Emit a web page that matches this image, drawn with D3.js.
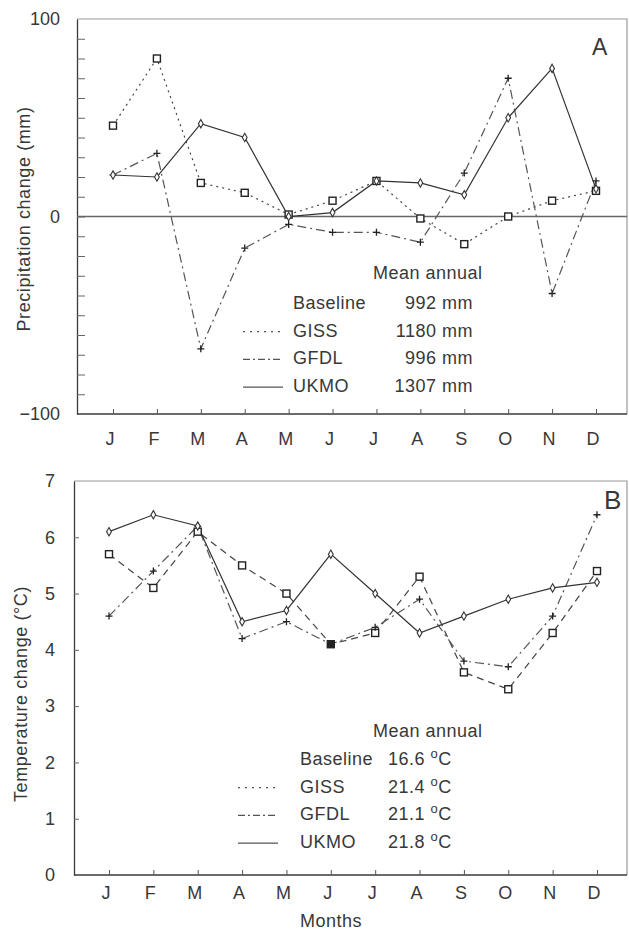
<!DOCTYPE html>
<html>
<head>
<meta charset="utf-8">
<script src="https://cdn.jsdelivr.net/npm/d3@7"></script>
<style>
  body { margin: 0; background: #fff; }
  svg text { font-family: "Liberation Sans", Arial, sans-serif; fill: #383838; }
</style>
</head>
<body>
<svg id="chart" width="629" height="936"></svg>
<script>
// data
const months = ["J", "F", "M", "A", "M", "J", "J", "A", "S", "O", "N", "D"];

const precipGISS = [46, 80, 17, 12, 1, 8, 18, -1, -14, 0, 8, 13];
const precipGFDL = [21, 32, -67, -16, -4, -8, -8, -13, 22, 70, -39, 18];
const precipUKMO = [21, 20, 47, 40, 0, 2, 18, 17, 11, 50, 75, 14];

const tempGISS = [5.7, 5.1, 6.1, 5.5, 5.0, 4.1, 4.3, 5.3, 3.6, 3.3, 4.3, 5.4];
const tempGFDL = [4.6, 5.4, 6.2, 4.2, 4.5, 4.1, 4.4, 4.9, 3.8, 3.7, 4.6, 6.4];
const tempUKMO = [6.1, 6.4, 6.2, 4.5, 4.7, 5.7, 5.0, 4.3, 4.6, 4.9, 5.1, 5.2];

const legendNames = ["Baseline", "GISS", "GFDL", "UKMO"];
const precipMeans = ["992", "1180", "996", "1307"];
const tempMeans = ["16.6", "21.4", "21.1", "21.8"];

const precipLabelTicks = [-100, 0, 100];
const tempLabelTicks = [0, 1, 2, 3, 4, 5, 6, 7];

const svg = d3.select("#chart");
const ink = "#3a3a3a";

const drawPanel = (p) => {
  const x = d3.scalePoint().domain(d3.range(12)).range([p.x0, p.x1]);
  const y = d3.scaleLinear().domain(p.ydomain).range([p.bottom, p.top]);
  const g = svg.append("g");

  // frame (top/right are faint in the scan)
  g.append("path")
    .attr("d", `M${p.left},${p.top}H${p.right}V${p.bottom}`)
    .attr("fill", "none").attr("stroke", "#999").attr("stroke-width", 1.2);

  // minor ticks inside left axis
  g.append("g").attr("transform", `translate(${p.left},0)`)
    .call(d3.axisLeft(y).tickValues(p.minorTicks).tickSizeInner(-p.tickLen).tickSizeOuter(0).tickFormat(""))
    .call(a => a.select(".domain").attr("stroke", ink).attr("stroke-width", 1.3))
    .call(a => a.selectAll(".tick line").attr("stroke", "#666"));

  // labels on left axis
  g.append("g").attr("transform", `translate(${p.left},0)`)
    .call(d3.axisLeft(y).tickValues(p.labelTicks).tickSize(0).tickPadding(p.labelPad).tickFormat(d3.format("d")))
    .call(a => a.select(".domain").remove())
    .call(a => a.selectAll("text").attr("font-size", 18).attr("fill", "#383838")
      .attr("font-family", "Liberation Sans, Arial, sans-serif"));

  // bottom axis with inward ticks
  g.append("g").attr("transform", `translate(0,${p.bottom})`)
    .call(d3.axisBottom(x).tickSizeInner(-5).tickSizeOuter(0).tickFormat(""))
    .call(a => a.select(".domain").attr("d", `M${p.left},0H${p.right}`).attr("stroke", ink).attr("stroke-width", 1.3))
    .call(a => a.selectAll(".tick line").attr("stroke", "#555"));

  g.selectAll(".mon").data(months).join("text")
    .attr("x", (d, i) => x(i) - 3).attr("y", p.bottom + p.monthDy)
    .attr("text-anchor", "middle").attr("font-size", 18).text(d => d);

  if (p.zeroLine) {
    g.append("line").attr("x1", p.left).attr("x2", p.right)
      .attr("y1", y(0)).attr("y2", y(0)).attr("stroke", "#666").attr("stroke-width", 1.3);
  }

  // y title
  g.append("text")
    .attr("transform", `translate(${p.titleX},${p.titleY}) rotate(-90)`)
    .attr("text-anchor", "middle").attr("font-size", 18).attr("letter-spacing", 0.6)
    .text(p.title);

  g.append("text").attr("x", p.letterX).attr("y", p.letterY)
    .attr("font-size", p.letterSize).text(p.letter);

  const line = d3.line().x((d, i) => x(i)).y(d => y(d));
  const series = [
    { vals: p.giss, dash: p.gissDash, marker: "square", color: "#444" },
    { vals: p.gfdl, dash: "9,4,2,4", marker: "plus", color: "#555" },
    { vals: p.ukmo, dash: null, marker: "diamond", color: "#333" }
  ];
  series.forEach(s => {
    g.append("path").datum(s.vals)
      .attr("d", line).attr("fill", "none").attr("stroke", s.color)
      .attr("stroke-width", 1.2).attr("stroke-dasharray", s.dash);
  });
  series.forEach(s => {
    const m = g.append("g").selectAll("g").data(s.vals).join("g")
      .attr("transform", (d, i) => `translate(${x(i)},${y(d)})`);
    if (s.marker === "square") {
      m.append("rect").attr("x", -3.5).attr("y", -3.5).attr("width", 7).attr("height", 7)
        .attr("fill", (d, i) => p.fillCoincident && Math.abs(d - p.gfdl[i]) < 0.05 ? "#222" : "#fff")
        .attr("stroke", "#222").attr("stroke-width", 1.4);
    } else if (s.marker === "diamond") {
      m.append("path").attr("d", d3.symbol(d3.symbolDiamond, 20)())
        .attr("fill", "#fff").attr("stroke", "#333").attr("stroke-width", 1.1);
    } else {
      m.append("path").attr("d", "M-3.5,0H3.5M0,-3.5V3.5")
        .attr("stroke", "#222").attr("stroke-width", 1.3);
    }
  });

  // legend
  const L = p.legend;
  g.append("text").attr("x", L.titleX).attr("y", L.titleY)
    .attr("font-size", 18).attr("letter-spacing", 0.5).text("Mean annual");
  const rows = g.append("g").selectAll("g").data(legendNames).join("g")
    .attr("transform", (d, i) => `translate(0,${L.row0 + i * L.gap})`);
  rows.append("text").attr("x", L.nameX).attr("font-size", 18).attr("letter-spacing", 0.5).text(d => d);
  const vals = rows.append("text").attr("x", L.valX).attr("text-anchor", L.valAnchor)
    .attr("font-size", 18).attr("letter-spacing", 0.5);
  vals.append("tspan").text((d, i) => p.means[i] + " ");
  if (p.unit === "mm") {
    vals.append("tspan").text("mm");
  } else {
    vals.append("tspan").attr("font-size", 13).attr("dy", -7).text("o");
    vals.append("tspan").attr("dy", 7).text("C");
  }
  const dashes = [null, "2,5", "7,3,2,3", null];
  rows.filter((d, i) => i > 0).append("line")
    .attr("x1", L.sx0).attr("x2", L.sx1).attr("y1", -5).attr("y2", -5)
    .attr("stroke", "#555").attr("stroke-width", 1.2)
    .attr("stroke-dasharray", (d, i) => dashes[i + 1]);
};

drawPanel({
  left: 77, right: 627, top: 19, bottom: 414, x0: 113, x1: 596,
  ydomain: [-100, 100], minorTicks: d3.range(-90, 100, 10), labelTicks: precipLabelTicks,
  tickLen: 8, labelPad: 17, monthDy: 31, zeroLine: true,
  title: "Precipitation change (mm)", titleX: 30, titleY: 219,
  letter: "A", letterX: 592, letterY: 55, letterSize: 23,
  giss: precipGISS, gfdl: precipGFDL, ukmo: precipUKMO, gissDash: "2,4",
  means: precipMeans, unit: "mm",
  legend: { titleX: 373, titleY: 279, nameX: 293, row0: 309, gap: 27.7,
    valX: 473, valAnchor: "end", sx0: 243, sx1: 283 }
});

drawPanel({
  left: 74, right: 627, top: 481, bottom: 875, x0: 109, x1: 597,
  ydomain: [0, 7], minorTicks: d3.range(1, 7), labelTicks: tempLabelTicks,
  tickLen: 5, labelPad: 19, monthDy: 24, zeroLine: false,
  title: "Temperature change (\u00B0C)", titleX: 27, titleY: 694,
  letter: "B", letterX: 604, letterY: 509, letterSize: 26,
  giss: tempGISS, gfdl: tempGFDL, ukmo: tempUKMO, gissDash: "7,5", fillCoincident: true,
  means: tempMeans, unit: "C",
  legend: { titleX: 373, titleY: 737, nameX: 300, row0: 765, gap: 27.7,
    valX: 388, valAnchor: "start", sx0: 238, sx1: 278 }
});

svg.append("text").attr("x", 331).attr("y", 927).attr("text-anchor", "middle")
  .attr("font-size", 18).attr("letter-spacing", 0.5).text("Months");
</script>
</body>
</html>
